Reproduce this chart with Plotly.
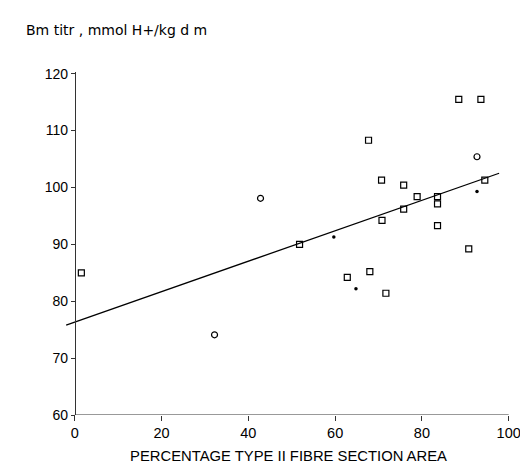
import plotly.graph_objects as go

# Data
square_x = [1.5, 51.8, 62.8, 67.7, 68.0, 70.7, 70.8, 71.7, 75.8, 75.8, 78.9, 83.6, 83.6, 83.6, 88.5, 90.8, 93.6, 94.5]
square_y = [85.0, 90.0, 84.2, 108.3, 85.2, 101.3, 94.2, 81.4, 100.4, 96.2, 98.4, 98.4, 97.1, 93.3, 115.5, 89.2, 115.5, 101.3]
circle_x = [32.2, 42.8, 92.7]
circle_y = [74.1, 98.1, 105.4]
dot_x = [59.7, 64.8, 92.7]
dot_y = [91.3, 82.2, 99.3]
fit_x = [-2.0, 97.8]
fit_y = [75.8, 102.5]

x_ticks = [0, 20, 40, 60, 80, 100]
y_ticks = [60, 70, 80, 90, 100, 110, 120]

x_range = [-2.5, 101.0]
y_range = [60, 120.3]

font_family = "Liberation Sans, Arial, sans-serif"

fig = go.Figure()
fig.add_trace(go.Scatter(x=fit_x, y=fit_y, mode="lines",
                         line=dict(color="black", width=1.3), hoverinfo="skip"))
fig.add_trace(go.Scatter(x=square_x, y=square_y, mode="markers",
                         marker=dict(symbol="square-open", size=6, color="black",
                                     line=dict(width=1.2, color="black")),
                         cliponaxis=False))
fig.add_trace(go.Scatter(x=circle_x, y=circle_y, mode="markers",
                         marker=dict(symbol="circle-open", size=6, color="black",
                                     line=dict(width=1.2, color="black")),
                         cliponaxis=False))
fig.add_trace(go.Scatter(x=dot_x, y=dot_y, mode="markers",
                         marker=dict(symbol="circle", size=3.5, color="black"),
                         cliponaxis=False))

y_pos = (0 - x_range[0]) / (x_range[1] - x_range[0])

fig.update_layout(
    width=528, height=470,
    margin=dict(l=56, r=23, t=64, b=63, autoexpand=False),
    paper_bgcolor="white", plot_bgcolor="white",
    showlegend=False,
    font=dict(family=font_family, color="black", size=13),
    xaxis=dict(range=x_range, tickvals=x_ticks, ticktext=[str(v) for v in x_ticks],
               showgrid=False, zeroline=False, showline=False, automargin=False,
               ticks="outside", ticklen=5, tickcolor="#333",
               tickfont=dict(size=14.5), domain=[0, 1],
               title=dict(text="PERCENTAGE TYPE II FIBRE SECTION AREA",
                          font=dict(size=14.8), standoff=10)),
    yaxis=dict(range=y_range, tickvals=y_ticks, ticktext=[str(v) for v in y_ticks],
               showgrid=False, zeroline=False, showline=True, linecolor="#333",
               linewidth=1, ticks="outside", ticklen=4, tickcolor="#333",
               automargin=False,
               tickfont=dict(size=14), anchor="free", position=y_pos),
    shapes=[dict(type="line", xref="x", yref="y", x0=0, x1=100,
                 y0=y_range[0], y1=y_range[0], line=dict(color="#333", width=1))],
    annotations=[dict(text="Bm titr , mmol H+/kg d m", xref="paper", yref="paper",
                      x=-0.089, y=1.122, xanchor="left", yanchor="middle",
                      showarrow=False,
                      font=dict(size=14, family="DejaVu Sans, sans-serif"))],
)

fig.write_html("out.html")
